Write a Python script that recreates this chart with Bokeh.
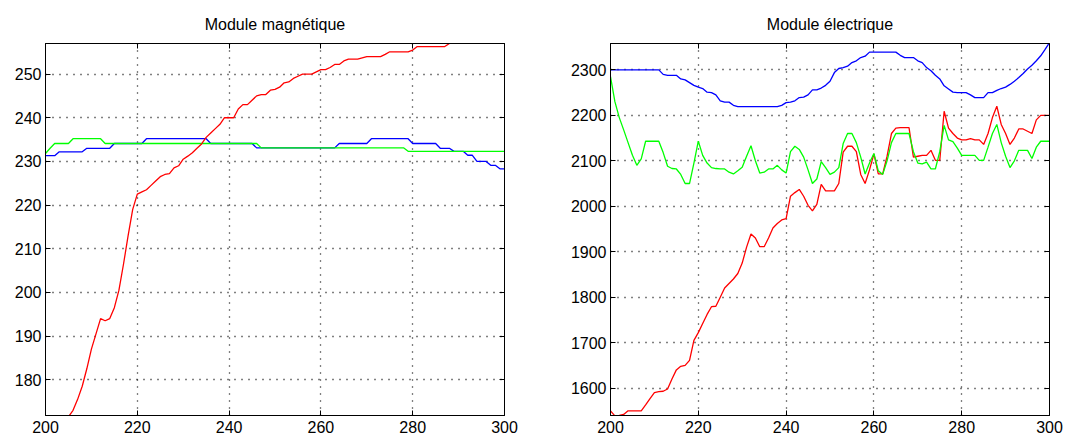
from bokeh.plotting import figure
from bokeh.layouts import row
from bokeh.models import LinearAxis, FixedTicker, CustomJSTickFormatter, Range1d
from bokeh.embed import file_html
from bokeh.resources import INLINE

# ---------------- data: Module magnétique ----------------
mag_x_red = list(range(205, 290))
mag_red = [171.5, 173, 175.5, 178.5, 182.5, 187, 190.5, 194, 193.5, 194,
           196.5, 200.5, 206.5, 213, 219, 222.5, 223, 223.5, 224.5, 225.5,
           226.5, 227, 227.2, 228.5, 229, 230.5, 231.2, 232, 233, 234,
           235.5, 236.5, 237.5, 238.5, 240, 240, 240, 242, 243, 243,
           244, 245, 245.3, 245.3, 246.3, 246.5, 247, 248, 248.2, 249,
           249.5, 250, 250, 250, 250.5, 251, 251, 251.5, 252.2, 252.2,
           253, 253.4, 253.4, 253.4, 253.7, 254, 254, 254, 254, 254.5,
           255.1, 255.1, 255.1, 255.1, 255.1, 255.5, 256.3, 256.3, 256.3, 256.3,
           256.3, 256.3, 256.3, 257, 257.5]
mag_x = list(range(200, 301))
mag_blue = ([231.3] * 3 + [232.2] * 6 + [233.0] * 6 + [234.1] * 7 + [235.2] * 14 +
            [234.1] * 10 + [233.1] * 18 + [234.1] * 7 + [235.2] * 9 + [234.1] * 6 +
            [233.0] * 3 + [232.3] * 3 + [231.4] * 2 + [230.0] * 3 + [229.1] * 2 + [228.3] * 2)
mag_green = ([231.8, 233.0] + [234.1] * 4 + [235.2] * 7 + [234.1] * 34 +
             [233.1] * 32 + [232.3] * 22)

# ---------------- data: Module électrique ----------------
ele_x = list(range(200, 301))
ele_blue = ([2300] * 12 + [2290, 2288, 2288, 2288, 2280, 2278, 2272, 2266, 2262, 2259,
            2251, 2250, 2245, 2232, 2229, 2229, 2222] + [2219] * 10 +
            [2222, 2228, 2229, 2232, 2239, 2240, 2245, 2256, 2256, 2260,
             2266, 2275, 2294, 2303, 2305, 2308, 2316, 2320, 2327, 2330] + [2339] * 7 +
            [2332, 2327, 2327, 2327, 2320, 2316, 2305, 2298, 2288, 2280,
             2265, 2258, 2251, 2250, 2250, 2250, 2245, 2239, 2239, 2239,
             2250, 2250, 2255, 2259, 2262, 2268, 2275, 2283, 2292, 2302,
             2310, 2320, 2331, 2345, 2360])
ele_red = [1550, 1539, 1540, 1542, 1550, 1550, 1550, 1550, 1563, 1577,
           1590, 1592, 1593, 1598, 1620, 1640, 1648, 1650, 1661, 1705,
           1722, 1742, 1762, 1779, 1780, 1800, 1820, 1830, 1840, 1852,
           1875, 1910, 1939, 1930, 1911, 1911, 1930, 1952, 1962, 1970,
           1973, 2022, 2030, 2037, 2022, 2002, 1990, 2004, 2048, 2034,
           2034, 2034, 2050, 2119, 2132, 2132, 2120, 2070, 2050, 2080,
           2115, 2071, 2071, 2110, 2160, 2172, 2173, 2173, 2173, 2108,
           2110, 2112, 2112, 2123, 2101, 2101, 2209, 2172, 2160, 2150,
           2146, 2146, 2149, 2146, 2146, 2136, 2160, 2195, 2220, 2180,
           2160, 2136, 2150, 2170, 2170, 2165, 2160, 2190, 2200, 2200,
           2200]
ele_green = [2285, 2230, 2195, 2168, 2140, 2112, 2090, 2104, 2143, 2143,
             2143, 2143, 2118, 2088, 2083, 2082, 2070, 2050, 2050, 2095,
             2143, 2112, 2095, 2085, 2083, 2082, 2082, 2075, 2071, 2078,
             2086, 2110, 2133, 2100, 2073, 2075, 2082, 2082, 2090, 2080,
             2073, 2120, 2132, 2125, 2108, 2080, 2050, 2060, 2098, 2085,
             2070, 2075, 2085, 2138, 2160, 2160, 2140, 2108, 2071, 2095,
             2116, 2078, 2070, 2100, 2140, 2160, 2160, 2160, 2160, 2120,
             2095, 2093, 2097, 2082, 2082, 2120, 2178, 2146, 2142, 2128,
             2112, 2112, 2112, 2112, 2101, 2101, 2130, 2160, 2180, 2140,
             2110, 2085, 2100, 2123, 2123, 2123, 2105, 2130, 2143, 2143,
             2143]

x_ticks = [200, 220, 240, 260, 280, 300]
mag_yticks = [180, 190, 200, 210, 220, 230, 240, 250]
ele_yticks = [1600, 1700, 1800, 1900, 2000, 2100, 2200, 2300]

FONT = "Liberation Sans"


def style_axis(ax, ticks, labels=True):
    ax.ticker = FixedTicker(ticks=ticks)
    ax.major_tick_in = 5
    ax.major_tick_out = 0
    ax.minor_tick_line_color = None
    ax.major_tick_line_color = "black"
    ax.axis_line_color = "black"
    ax.major_label_text_font = FONT
    ax.major_label_text_color = "black"
    if labels:
        ax.major_label_text_font_size = "16px"
    else:
        ax.formatter = CustomJSTickFormatter(code="return ''")
        ax.major_label_text_font_size = "1px"
        ax.major_label_standoff = 0


def make_fig(title, width, bl, br, yr, yticks, xs_list):
    p = figure(width=width, height=436, x_range=Range1d(200, 300), y_range=Range1d(*yr),
               min_border_left=bl, min_border_right=br, min_border_top=43, min_border_bottom=21,
               output_backend="svg", toolbar_location=None, title=title)
    p.title.text_font = FONT
    p.title.text_font_size = "16px"
    p.title.text_font_style = "normal"
    p.title.align = "center"
    p.title.text_color = "black"
    p.title.standoff = 21
    p.outline_line_color = "black"
    p.outline_line_width = 1
    p.outline_line_alpha = 1
    style_axis(p.xaxis[0], x_ticks)
    p.xaxis[0].major_label_standoff = 5
    style_axis(p.yaxis[0], yticks)
    p.yaxis[0].major_label_standoff = 4
    top = LinearAxis()
    style_axis(top, x_ticks, labels=False)
    p.add_layout(top, "above")
    right = LinearAxis()
    style_axis(right, yticks, labels=False)
    p.add_layout(right, "right")
    for g in p.grid:
        g.grid_line_color = "black"
        g.grid_line_dash = "1 6"
        g.grid_line_width = 1.3
        g.grid_line_alpha = 1.0
    p.xgrid.ticker = FixedTicker(ticks=x_ticks)
    p.ygrid.ticker = FixedTicker(ticks=yticks)
    for xs, ys, col in xs_list:
        p.line(xs, ys, line_color=col, line_width=1.3)
    return p


p1 = make_fig("Module magnétique", 560, 45, 56, (171.8, 257.0), mag_yticks,
              [(mag_x, mag_blue, "#0000FF"), (mag_x, mag_green, "#00FF00"),
               (mag_x_red, mag_red, "#FF0000")])
p2 = make_fig("Module électrique", 524, 50, 35, (1539.7, 2358.0), ele_yticks,
              [(ele_x, ele_blue, "#0000FF"), (ele_x, ele_red, "#FF0000"),
               (ele_x, ele_green, "#00FF00")])

layout = row(p1, p2)
open("out.html", "w").write(file_html(layout, INLINE))
